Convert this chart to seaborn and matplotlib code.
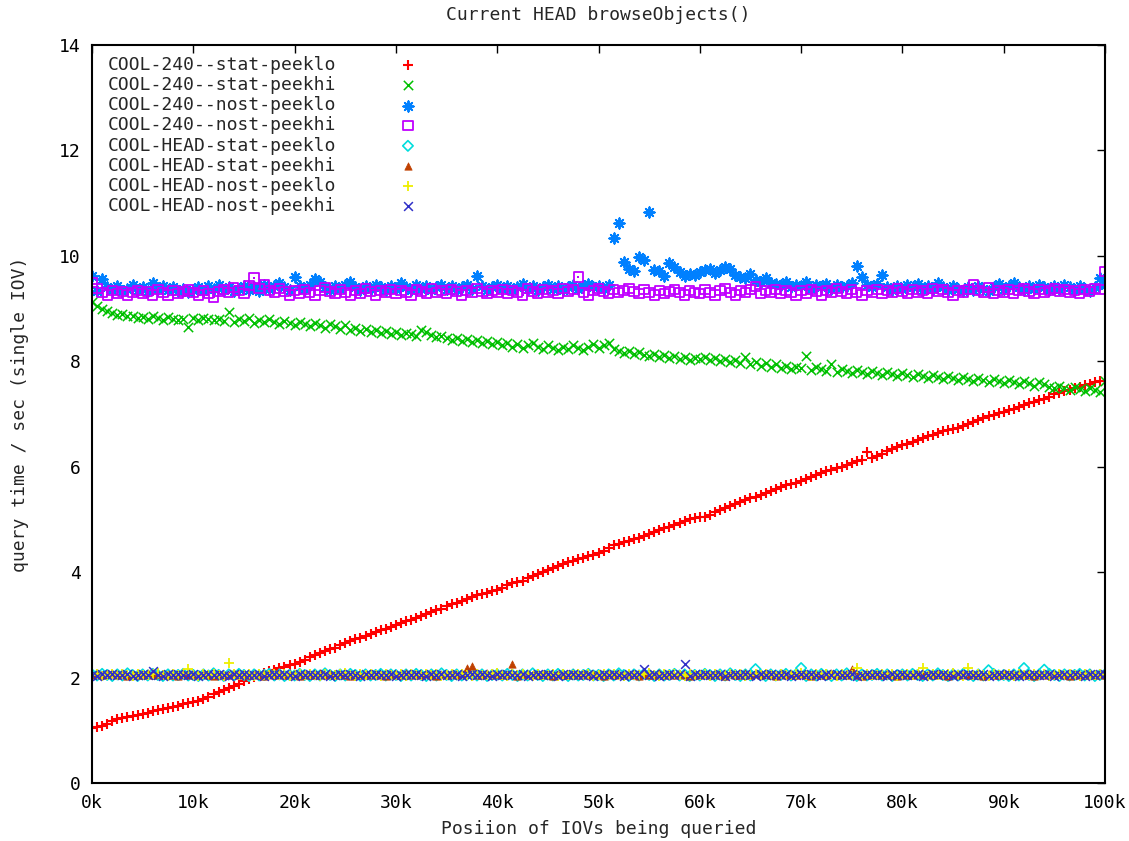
#!/usr/bin/python3
import numpy as np
import pandas as pd
import matplotlib
matplotlib.use('Agg')
import matplotlib.pyplot as plt
import seaborn as sns

## Config
OUT_FILE = 'out.png'
FONT = ['DejaVu Sans Mono', 'DejaVu Sans']
FONT_SIZE = 13

# IOV position (every 500 IOVs from 0 to 100k)
iov_pos = np.arange(0, 100001, 500)

# query times, 20 values per 10k block + the 100k point
cool240_stat_peeklo = [
    1.04, 1.06, 1.09, 1.12, 1.17, 1.21, 1.24, 1.26, 1.27, 1.29, 1.31, 1.33, 1.36, 1.38, 1.40, 1.43, 1.45, 1.47, 1.49, 1.51,
    1.53, 1.56, 1.60, 1.64, 1.68, 1.72, 1.77, 1.81, 1.84, 1.88, 1.93, 1.97, 2.01, 2.05, 2.09, 2.12, 2.15, 2.18, 2.21, 2.23,
    2.25, 2.29, 2.34, 2.39, 2.43, 2.47, 2.51, 2.54, 2.57, 2.61, 2.66, 2.70, 2.73, 2.76, 2.79, 2.82, 2.86, 2.90, 2.93, 2.96,
    2.99, 3.03, 3.07, 3.10, 3.13, 3.17, 3.21, 3.25, 3.28, 3.31, 3.35, 3.39, 3.42, 3.46, 3.50, 3.53, 3.56, 3.58, 3.61, 3.64,
    3.66, 3.70, 3.75, 3.79, 3.81, 3.84, 3.88, 3.92, 3.96, 4.00, 4.04, 4.08, 4.12, 4.15, 4.19, 4.22, 4.24, 4.27, 4.30, 4.33,
    4.36, 4.41, 4.46, 4.51, 4.54, 4.57, 4.59, 4.62, 4.65, 4.69, 4.73, 4.77, 4.80, 4.83, 4.86, 4.89, 4.93, 4.97, 5.00, 5.02,
    5.04, 5.05, 5.09, 5.14, 5.18, 5.22, 5.26, 5.30, 5.34, 5.37, 5.40, 5.43, 5.46, 5.50, 5.54, 5.58, 5.62, 5.65, 5.68, 5.70,
    5.73, 5.77, 5.81, 5.85, 5.88, 5.91, 5.94, 5.97, 6.00, 6.03, 6.07, 6.10, 6.13, 6.28, 6.17, 6.21, 6.25, 6.29, 6.33, 6.37,
    6.41, 6.44, 6.47, 6.51, 6.54, 6.58, 6.61, 6.64, 6.67, 6.69, 6.71, 6.74, 6.77, 6.81, 6.85, 6.89, 6.93, 6.96, 6.99, 7.02,
    7.04, 7.07, 7.10, 7.13, 7.17, 7.20, 7.23, 7.26, 7.29, 7.33, 7.37, 7.40, 7.43, 7.46, 7.49, 7.52, 7.55, 7.57, 7.60, 7.62,
    7.63]

cool240_stat_peekhi = [
    9.12, 9.05, 9.00, 8.95, 8.92, 8.88, 8.90, 8.85, 8.86, 8.83, 8.84, 8.80, 8.86, 8.82, 8.79, 8.84, 8.80, 8.78, 8.81, 8.65,
    8.83, 8.79, 8.82, 8.80, 8.78, 8.81, 8.77, 8.94, 8.74, 8.80, 8.76, 8.83, 8.72, 8.78, 8.75, 8.80, 8.74, 8.70, 8.76, 8.72,
    8.68, 8.74, 8.70, 8.66, 8.72, 8.68, 8.64, 8.70, 8.66, 8.62, 8.68, 8.60, 8.64, 8.58, 8.62, 8.56, 8.60, 8.54, 8.58, 8.52,
    8.56, 8.50, 8.54, 8.52, 8.48, 8.60, 8.55, 8.50, 8.46, 8.48, 8.44, 8.40, 8.45, 8.38, 8.42, 8.36, 8.40, 8.34, 8.38, 8.32,
    8.36, 8.30, 8.34, 8.28, 8.32, 8.26, 8.30, 8.34, 8.28, 8.24, 8.30, 8.26, 8.22, 8.28, 8.24, 8.30, 8.26, 8.22, 8.28, 8.32,
    8.26, 8.30, 8.34, 8.24, 8.20, 8.16, 8.20, 8.14, 8.18, 8.12, 8.10, 8.14, 8.08, 8.12, 8.06, 8.10, 8.04, 8.08, 8.02, 8.06,
    8.04, 8.08, 8.02, 8.06, 8.00, 8.04, 7.98, 8.02, 7.96, 8.08, 7.94, 7.98, 7.92, 7.96, 7.90, 7.94, 7.88, 7.92, 7.86, 7.90,
    7.88, 8.10, 7.84, 7.90, 7.86, 7.82, 7.95, 7.80, 7.86, 7.82, 7.78, 7.84, 7.80, 7.76, 7.82, 7.78, 7.74, 7.80, 7.76, 7.72,
    7.78, 7.74, 7.70, 7.76, 7.72, 7.68, 7.74, 7.70, 7.66, 7.72, 7.68, 7.64, 7.70, 7.66, 7.62, 7.68, 7.64, 7.60, 7.66, 7.62,
    7.58, 7.64, 7.60, 7.56, 7.62, 7.58, 7.54, 7.60, 7.56, 7.52, 7.50, 7.54, 7.50, 7.46, 7.52, 7.48, 7.44, 7.50, 7.46, 7.42,
    7.62]

cool240_nost_peeklo = [
    9.62, 9.34, 9.56, 9.40, 9.36, 9.42, 9.34, 9.38, 9.44, 9.36, 9.40, 9.34, 9.48, 9.38, 9.42, 9.36, 9.40, 9.34, 9.38, 9.32,
    9.36, 9.40, 9.34, 9.42, 9.38, 9.44, 9.36, 9.40, 9.34, 9.38, 9.42, 9.36, 9.40, 9.34, 9.44, 9.38, 9.42, 9.48, 9.40, 9.36,
    9.60, 9.42, 9.38, 9.44, 9.56, 9.50, 9.40, 9.36, 9.42, 9.38, 9.44, 9.51, 9.40, 9.36, 9.42, 9.38, 9.44, 9.40, 9.36, 9.42,
    9.38, 9.49, 9.40, 9.36, 9.44, 9.38, 9.42, 9.36, 9.40, 9.44, 9.38, 9.42, 9.36, 9.40, 9.44, 9.38, 9.62, 9.42, 9.36, 9.40,
    9.44, 9.38, 9.42, 9.36, 9.40, 9.46, 9.38, 9.42, 9.36, 9.40, 9.44, 9.38, 9.42, 9.36, 9.40, 9.44, 9.38, 9.42, 9.46, 9.40,
    9.42, 9.38, 9.44, 10.34, 10.63, 9.89, 9.75, 9.72, 9.98, 9.92, 10.83, 9.74, 9.71, 9.62, 9.87, 9.78, 9.70, 9.62, 9.66, 9.64,
    9.70, 9.74, 9.76, 9.68, 9.74, 9.78, 9.76, 9.64, 9.60, 9.58, 9.66, 9.55, 9.50, 9.58, 9.48, 9.46, 9.44, 9.50, 9.40, 9.44,
    9.42, 9.50, 9.38, 9.44, 9.40, 9.46, 9.38, 9.44, 9.40, 9.42, 9.48, 9.81, 9.60, 9.44, 9.40, 9.46, 9.63, 9.40, 9.36, 9.42,
    9.38, 9.44, 9.40, 9.46, 9.36, 9.42, 9.38, 9.48, 9.40, 9.36, 9.42, 9.38, 9.34, 9.40, 9.36, 9.42, 9.38, 9.34, 9.40, 9.46,
    9.38, 9.42, 9.48, 9.40, 9.36, 9.42, 9.38, 9.44, 9.40, 9.36, 9.42, 9.38, 9.44, 9.40, 9.36, 9.42, 9.38, 9.34, 9.40, 9.58,
    9.44]

cool240_nost_peekhi = [
    9.50, 9.38, 9.30, 9.26, 9.34, 9.28, 9.32, 9.26, 9.30, 9.34, 9.28, 9.32, 9.26, 9.36, 9.30, 9.26, 9.34, 9.28, 9.32, 9.36,
    9.30, 9.26, 9.34, 9.28, 9.22, 9.32, 9.36, 9.30, 9.40, 9.34, 9.28, 9.44, 9.58, 9.38, 9.46, 9.34, 9.30, 9.38, 9.32, 9.26,
    9.34, 9.28, 9.36, 9.30, 9.26, 9.34, 9.40, 9.32, 9.28, 9.36, 9.30, 9.26, 9.34, 9.28, 9.38, 9.32, 9.26, 9.34, 9.30, 9.36,
    9.28, 9.34, 9.30, 9.26, 9.36, 9.32, 9.28, 9.38, 9.30, 9.34, 9.28, 9.36, 9.32, 9.26, 9.34, 9.30, 9.38, 9.32, 9.28, 9.34,
    9.30, 9.36, 9.28, 9.34, 9.30, 9.26, 9.38, 9.32, 9.28, 9.36, 9.30, 9.34, 9.28, 9.38, 9.32, 9.36, 9.60, 9.30, 9.26, 9.34,
    9.38, 9.32, 9.28, 9.36, 9.30, 9.34, 9.38, 9.32, 9.28, 9.36, 9.30, 9.26, 9.34, 9.28, 9.32, 9.36, 9.30, 9.26, 9.34, 9.30,
    9.28, 9.36, 9.30, 9.26, 9.34, 9.38, 9.30, 9.26, 9.34, 9.30, 9.36, 9.42, 9.28, 9.34, 9.30, 9.36, 9.28, 9.34, 9.30, 9.26,
    9.34, 9.28, 9.36, 9.32, 9.26, 9.34, 9.30, 9.38, 9.32, 9.28, 9.36, 9.30, 9.26, 9.34, 9.30, 9.36, 9.28, 9.34, 9.30, 9.38,
    9.32, 9.28, 9.36, 9.30, 9.34, 9.28, 9.38, 9.32, 9.36, 9.30, 9.26, 9.34, 9.30, 9.36, 9.46, 9.34, 9.30, 9.40, 9.28, 9.34,
    9.30, 9.36, 9.28, 9.34, 9.38, 9.32, 9.28, 9.36, 9.30, 9.34, 9.38, 9.32, 9.36, 9.30, 9.34, 9.28, 9.36, 9.32, 9.38, 9.36,
    9.70]

coolhead_stat_peeklo = [
    2.06, 2.04, 2.07, 2.05, 2.03, 2.06, 2.04, 2.08, 2.05, 2.03, 2.06, 2.04, 2.07, 2.05, 2.03, 2.06, 2.04, 2.05, 2.07, 2.04,
    2.05, 2.03, 2.06, 2.04, 2.08, 2.05, 2.03, 2.06, 2.04, 2.07, 2.05, 2.03, 2.06, 2.04, 2.05, 2.07, 2.04, 2.06, 2.03, 2.05,
    2.04, 2.07, 2.05, 2.03, 2.06, 2.04, 2.08, 2.05, 2.03, 2.06, 2.04, 2.07, 2.05, 2.03, 2.06, 2.04, 2.05, 2.07, 2.04, 2.06,
    2.05, 2.03, 2.06, 2.04, 2.07, 2.05, 2.03, 2.06, 2.04, 2.08, 2.05, 2.03, 2.06, 2.04, 2.05, 2.07, 2.04, 2.06, 2.03, 2.05,
    2.06, 2.04, 2.07, 2.05, 2.03, 2.06, 2.04, 2.08, 2.05, 2.03, 2.06, 2.04, 2.07, 2.05, 2.03, 2.06, 2.04, 2.05, 2.07, 2.04,
    2.05, 2.03, 2.06, 2.04, 2.08, 2.05, 2.03, 2.06, 2.04, 2.07, 2.05, 2.03, 2.06, 2.04, 2.05, 2.07, 2.04, 2.06, 2.03, 2.05,
    2.04, 2.07, 2.05, 2.03, 2.06, 2.04, 2.08, 2.05, 2.03, 2.06, 2.04, 2.16, 2.05, 2.03, 2.06, 2.04, 2.05, 2.07, 2.04, 2.06,
    2.18, 2.03, 2.06, 2.04, 2.07, 2.05, 2.03, 2.06, 2.04, 2.08, 2.05, 2.03, 2.06, 2.04, 2.05, 2.07, 2.04, 2.06, 2.03, 2.05,
    2.06, 2.04, 2.07, 2.05, 2.03, 2.06, 2.04, 2.08, 2.05, 2.03, 2.06, 2.04, 2.07, 2.05, 2.03, 2.06, 2.04, 2.14, 2.07, 2.04,
    2.05, 2.03, 2.06, 2.04, 2.18, 2.05, 2.03, 2.06, 2.15, 2.07, 2.05, 2.03, 2.06, 2.04, 2.05, 2.07, 2.04, 2.06, 2.03, 2.05,
    2.06]

coolhead_stat_peekhi = [
    2.05, 2.07, 2.04, 2.06, 2.08, 2.04, 2.06, 2.03, 2.07, 2.05, 2.04, 2.08, 2.05, 2.06, 2.04, 2.07, 2.05, 2.03, 2.06, 2.05,
    2.07, 2.04, 2.06, 2.05, 2.03, 2.07, 2.05, 2.04, 2.08, 2.05, 2.06, 2.04, 2.07, 2.05, 2.03, 2.06, 2.05, 2.07, 2.04, 2.06,
    2.05, 2.03, 2.07, 2.05, 2.04, 2.08, 2.05, 2.06, 2.04, 2.07, 2.05, 2.03, 2.06, 2.05, 2.07, 2.04, 2.06, 2.05, 2.03, 2.07,
    2.05, 2.04, 2.08, 2.05, 2.06, 2.04, 2.07, 2.05, 2.03, 2.06, 2.05, 2.07, 2.04, 2.06, 2.18, 2.22, 2.05, 2.04, 2.08, 2.05,
    2.06, 2.04, 2.07, 2.26, 2.03, 2.06, 2.05, 2.07, 2.04, 2.06, 2.05, 2.03, 2.07, 2.05, 2.04, 2.08, 2.05, 2.06, 2.04, 2.07,
    2.05, 2.03, 2.06, 2.05, 2.07, 2.04, 2.06, 2.05, 2.03, 2.07, 2.05, 2.04, 2.08, 2.05, 2.06, 2.04, 2.07, 2.05, 2.03, 2.06,
    2.05, 2.07, 2.04, 2.06, 2.05, 2.03, 2.07, 2.05, 2.04, 2.08, 2.05, 2.06, 2.04, 2.07, 2.05, 2.03, 2.06, 2.05, 2.07, 2.04,
    2.06, 2.05, 2.03, 2.07, 2.05, 2.04, 2.08, 2.05, 2.06, 2.04, 2.17, 2.05, 2.03, 2.06, 2.05, 2.07, 2.04, 2.06, 2.05, 2.03,
    2.07, 2.05, 2.04, 2.08, 2.05, 2.06, 2.04, 2.07, 2.05, 2.03, 2.06, 2.05, 2.07, 2.04, 2.06, 2.05, 2.03, 2.07, 2.05, 2.04,
    2.08, 2.05, 2.06, 2.04, 2.07, 2.05, 2.03, 2.06, 2.05, 2.07, 2.04, 2.06, 2.05, 2.03, 2.07, 2.05, 2.04, 2.08, 2.05, 2.06,
    2.05]

coolhead_nost_peeklo = [
    2.04, 2.06, 2.03, 2.05, 2.07, 2.04, 2.06, 2.05, 2.03, 2.07, 2.05, 2.04, 2.06, 2.08, 2.05, 2.03, 2.06, 2.04, 2.07, 2.17,
    2.05, 2.03, 2.06, 2.04, 2.07, 2.05, 2.03, 2.27, 2.06, 2.04, 2.05, 2.07, 2.03, 2.06, 2.04, 2.05, 2.07, 2.04, 2.06, 2.03,
    2.05, 2.07, 2.04, 2.06, 2.05, 2.03, 2.07, 2.05, 2.04, 2.06, 2.08, 2.05, 2.03, 2.06, 2.04, 2.07, 2.05, 2.03, 2.06, 2.04,
    2.05, 2.07, 2.03, 2.06, 2.04, 2.05, 2.07, 2.04, 2.06, 2.03, 2.05, 2.07, 2.04, 2.06, 2.05, 2.03, 2.07, 2.05, 2.04, 2.06,
    2.08, 2.05, 2.03, 2.06, 2.04, 2.07, 2.05, 2.03, 2.06, 2.04, 2.05, 2.07, 2.03, 2.06, 2.04, 2.05, 2.07, 2.04, 2.06, 2.03,
    2.05, 2.07, 2.04, 2.06, 2.05, 2.03, 2.07, 2.05, 2.04, 2.06, 2.08, 2.05, 2.03, 2.06, 2.04, 2.07, 2.05, 2.03, 2.06, 2.04,
    2.05, 2.07, 2.03, 2.06, 2.04, 2.05, 2.07, 2.04, 2.06, 2.03, 2.05, 2.07, 2.04, 2.06, 2.05, 2.03, 2.07, 2.05, 2.04, 2.06,
    2.08, 2.05, 2.03, 2.06, 2.04, 2.07, 2.05, 2.03, 2.06, 2.04, 2.05, 2.18, 2.03, 2.06, 2.04, 2.05, 2.07, 2.04, 2.06, 2.03,
    2.05, 2.07, 2.04, 2.06, 2.18, 2.03, 2.07, 2.05, 2.04, 2.06, 2.08, 2.05, 2.03, 2.19, 2.04, 2.07, 2.05, 2.03, 2.06, 2.04,
    2.05, 2.07, 2.03, 2.06, 2.04, 2.05, 2.07, 2.04, 2.06, 2.03, 2.05, 2.07, 2.04, 2.06, 2.05, 2.03, 2.07, 2.05, 2.04, 2.06,
    2.05]

coolhead_nost_peekhi = [
    2.05, 2.03, 2.06, 2.04, 2.07, 2.05, 2.04, 2.06, 2.03, 2.05, 2.07, 2.04, 2.13, 2.05, 2.03, 2.06, 2.04, 2.07, 2.05, 2.04,
    2.06, 2.03, 2.05, 2.07, 2.04, 2.06, 2.05, 2.03, 2.06, 2.04, 2.07, 2.05, 2.04, 2.06, 2.03, 2.05, 2.07, 2.04, 2.06, 2.05,
    2.03, 2.06, 2.04, 2.07, 2.05, 2.04, 2.06, 2.03, 2.05, 2.07, 2.04, 2.06, 2.05, 2.03, 2.06, 2.04, 2.07, 2.05, 2.04, 2.06,
    2.03, 2.05, 2.07, 2.04, 2.06, 2.05, 2.03, 2.06, 2.04, 2.07, 2.05, 2.04, 2.06, 2.03, 2.05, 2.07, 2.04, 2.06, 2.05, 2.03,
    2.06, 2.04, 2.07, 2.05, 2.04, 2.06, 2.03, 2.05, 2.07, 2.04, 2.06, 2.05, 2.03, 2.06, 2.04, 2.07, 2.05, 2.04, 2.06, 2.03,
    2.05, 2.07, 2.04, 2.06, 2.05, 2.03, 2.06, 2.04, 2.07, 2.16, 2.04, 2.06, 2.03, 2.05, 2.07, 2.04, 2.06, 2.26, 2.03, 2.06,
    2.04, 2.07, 2.05, 2.04, 2.06, 2.03, 2.05, 2.07, 2.04, 2.06, 2.05, 2.03, 2.06, 2.04, 2.07, 2.05, 2.04, 2.06, 2.03, 2.05,
    2.07, 2.04, 2.06, 2.05, 2.03, 2.06, 2.04, 2.07, 2.05, 2.04, 2.06, 2.03, 2.05, 2.07, 2.04, 2.06, 2.05, 2.03, 2.06, 2.04,
    2.07, 2.05, 2.04, 2.06, 2.03, 2.05, 2.07, 2.04, 2.06, 2.05, 2.03, 2.06, 2.04, 2.07, 2.05, 2.04, 2.06, 2.03, 2.05, 2.07,
    2.04, 2.06, 2.05, 2.03, 2.06, 2.04, 2.07, 2.05, 2.04, 2.06, 2.03, 2.05, 2.07, 2.04, 2.06, 2.05, 2.03, 2.06, 2.04, 2.07,
    2.06]

SERIES_NAMES = ['COOL-240--stat-peeklo', 'COOL-240--stat-peekhi', 'COOL-240--nost-peeklo', 'COOL-240--nost-peekhi',
                'COOL-HEAD-stat-peeklo', 'COOL-HEAD-stat-peekhi', 'COOL-HEAD-nost-peeklo', 'COOL-HEAD-nost-peekhi']
SERIES_VALUES = [cool240_stat_peeklo, cool240_stat_peekhi, cool240_nost_peeklo, cool240_nost_peekhi,
                 coolhead_stat_peeklo, coolhead_stat_peekhi, coolhead_nost_peeklo, coolhead_nost_peekhi]
XTICKS = np.arange(0, 100001, 10000)
XTICK_LABELS = ['0k', '10k', '20k', '30k', '40k', '50k', '60k', '70k', '80k', '90k', '100k']

# gnuplot-ish point styles: (colour, marker, size, fill, line width)
STYLES = [('#ff0000', '+', 60, False, 1.5),
          ('#00c000', 'x', 45, False, 1.1),
          ('#0080ff', (8, 2, 0), 55, False, 1.4),
          ('#c000ff', 's', 45, 'open', 1.3),
          ('#00dddd', 'D', 28, 'open', 1.2),
          ('#c04000', '^', 28, True, 0.5),
          ('#eeee00', '+', 60, False, 1.3),
          ('#3030c8', 'x', 40, False, 1.1)]

df = pd.concat([pd.DataFrame({'pos': iov_pos, 'qtime': v, 'series': n})
                for n, v in zip(SERIES_NAMES, SERIES_VALUES)], ignore_index=True)

## Plot
sns.set_style('white')
plt.rcParams['font.family'] = FONT
plt.rcParams['font.size'] = FONT_SIZE

fig = plt.figure(figsize=(11.29, 8.41), dpi=100)
ax = fig.add_axes([92 / 1129, 1 - 783 / 841, (1105 - 92) / 1129, (783 - 45) / 841])

for name, (col, mk, sz, fill, lw) in zip(SERIES_NAMES, STYLES):
    sub = df[df['series'] == name]
    if fill == 'open':
        sns.scatterplot(data=sub, x='pos', y='qtime', ax=ax, label=name, marker=mk, s=sz,
                        facecolor='none', edgecolor=col, linewidth=lw)
        if mk == 's':
            # little centre dot like gnuplot's boxed point
            sns.scatterplot(data=sub, x='pos', y='qtime', ax=ax, marker='s', s=3,
                            facecolor=col, edgecolor=col, linewidth=0, legend=False)
    elif fill:
        sns.scatterplot(data=sub, x='pos', y='qtime', ax=ax, label=name, marker=mk, s=sz,
                        facecolor=col, edgecolor=col, linewidth=lw)
    else:
        sns.scatterplot(data=sub, x='pos', y='qtime', ax=ax, label=name, marker=mk, s=sz,
                        color=col, linewidth=lw)

ax.set_xlim(0, 100000)
ax.set_ylim(0, 14)
ax.set_xticks(XTICKS)
ax.set_xticklabels(XTICK_LABELS)
ax.set_yticks(np.arange(0, 15, 2))
ax.tick_params(direction='in', length=6, width=1, top=True, right=True,
               labelsize=FONT_SIZE, pad=8, colors='black')
for sp in ax.spines.values():
    sp.set_visible(True)
    sp.set_linewidth(1.5)
    sp.set_color('black')

ax.set_title('Current HEAD browseObjects()', fontsize=FONT_SIZE, pad=18)
ax.set_xlabel('Posiion of IOVs being queried', fontsize=FONT_SIZE, labelpad=6)
ax.set_ylabel('query time / sec (single IOV)', fontsize=FONT_SIZE, labelpad=22)

ax.legend(loc='upper left', bbox_to_anchor=(0.008, 0.995), markerfirst=False, frameon=False,
          scatterpoints=1, handlelength=1.0, handletextpad=3.5, labelspacing=0.12,
          borderaxespad=0, prop={'family': FONT, 'size': FONT_SIZE})

fig.savefig(OUT_FILE, dpi=100)
print('Complete../')
